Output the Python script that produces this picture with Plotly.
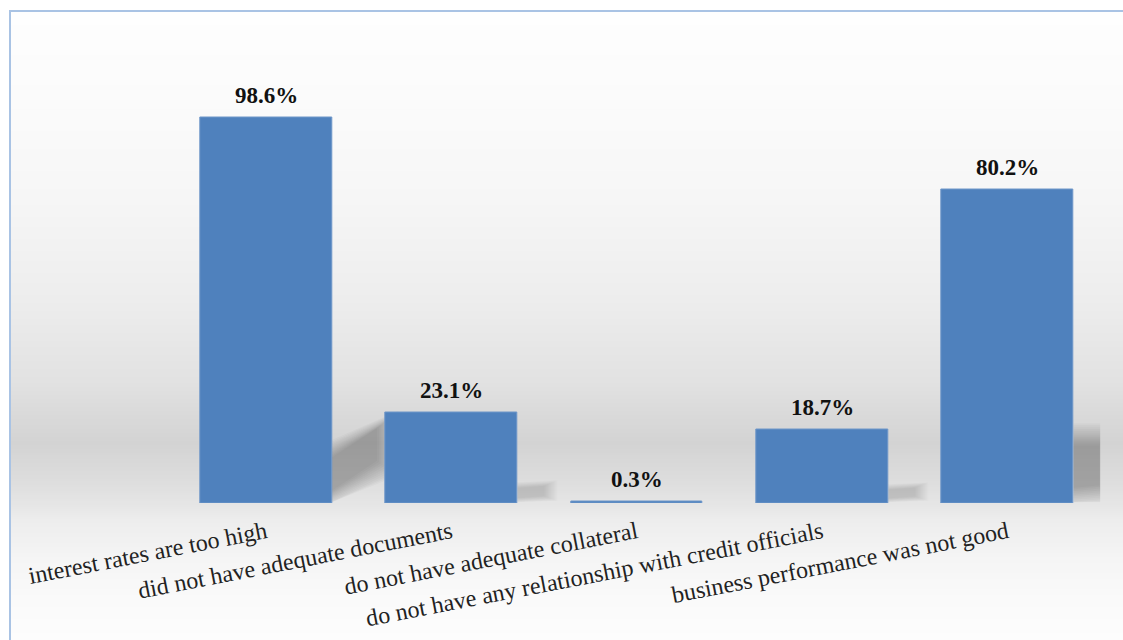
import numpy as np
import plotly.graph_objects as go

# ---- data ----
categories = [
    "interest rates are too high",
    "did not have adequate documents",
    "do not have adequate collateral",
    "do not have any relationship with credit officials",
    "business performance was not good",
]
shares = [98.6, 23.1, 0.3, 18.7, 80.2]
value_labels = ["98.6%", "23.1%", "0.3%", "18.7%", "80.2%"]

W, H = 1123, 640
BAR_COLOR = "#4F81BD"
BAR_WIDTH = 0.71
SERIF = "Liberation Serif, Times New Roman, serif"

x_pos = list(range(len(categories)))

fig = go.Figure()
fig.add_trace(go.Bar(
    x=x_pos,
    y=shares,
    width=BAR_WIDTH,
    marker=dict(color=BAR_COLOR, line=dict(color="#6f97c9", width=1)),
    hoverinfo="skip",
))

# value labels above the bars
for xi, v, lab in zip(x_pos, shares, value_labels):
    fig.add_annotation(
        x=xi, y=v, xref="x", yref="y", text="<b>" + lab + "</b>",
        showarrow=False, yanchor="bottom", yshift=8,
        font=dict(family=SERIF, size=23, color="#111111"),
    )

# ---- background: soft vertical gray gradient (darkest at the floor line) ----
grad_y = [11, 100, 200, 300, 380, 443, 480, 503, 520, 560, 600, 640]
grad_g = [254, 251, 246, 237, 226, 211, 221, 229, 237, 245, 250, 253]
shapes = []
step = 2
for top in range(11, H, step):
    g = int(round(np.interp(top + step / 2, grad_y, grad_g)))
    shapes.append(dict(
        type="rect", xref="paper", yref="paper", layer="below",
        x0=10 / W, x1=1.0, y0=1 - (top + step) / H, y1=1 - top / H,
        fillcolor=f"rgb({g},{g},{g})", line=dict(width=0),
    ))


# ---- soft drop shadows cast to the right of the bars ----
def shadow(xi, v, width, h_left, rise, lift, alpha):
    """Blurred parallelogram on the floor right of bar xi (data units)."""
    xr = xi + BAR_WIDTH / 2
    h0 = min(v, h_left)
    out = []
    n = 12
    for k in range(n):
        f = k / (n - 1) - 0.25          # negative values spread the halo outward
        x1 = xr + width * (1 - 0.35 * f)
        yb0 = max(0.2, 0.3 + h0 * 0.25 * f)
        yb1 = max(0.2, lift + h0 * 0.25 * f)
        yt0 = min(v, h0 * (1 - 0.3 * f))
        yt1 = h0 * (1 - 0.3 * f) + rise
        if yt0 <= yb0:
            continue
        out.append(dict(
            type="path", xref="x", yref="y", layer="below",
            path=f"M {xr},{yb0} L {x1},{yb1} L {x1},{yt1} L {xr},{yt0} Z",
            fillcolor=f"rgba(0,0,0,{alpha})", line=dict(width=0),
        ))
    return out


shadow_params = [
    # (width, height at bar, rise over width, lift of lower edge, opacity per layer)
    (0.33, 15, 7.5, 8.0, 0.022),
    (0.20, 5, 0.5, 0.8, 0.013),
    (0.0, 0, 0.0, 0.0, 0.0),
    (0.20, 4.5, 0.5, 0.8, 0.013),
    (0.19, 19, 0.0, 1.0, 0.024),
]
for xi, v, p in zip(x_pos, shares, shadow_params):
    if p[0] > 0:
        shapes.extend(shadow(xi, v, *p))

# light blue frame around the chart area
shapes.append(dict(
    type="rect", xref="paper", yref="paper", layer="above",
    x0=10 / W, x1=1.02, y0=-0.02, y1=1 - 11 / H,
    line=dict(color="#a9c3e4", width=2), fillcolor="rgba(0,0,0,0)",
))

x_left, x_right = 173.3, 1100.3
y_base, y_top = 503.0, 112.5

fig.update_layout(
    width=W, height=H,
    margin=dict(l=0, r=0, t=0, b=0),
    paper_bgcolor="white",
    plot_bgcolor="rgba(0,0,0,0)",
    showlegend=False,
    shapes=shapes,
    bargap=0,
    xaxis=dict(
        domain=[x_left / W, x_right / W],
        range=[-0.5, len(categories) - 0.5],
        tickmode="array", tickvals=x_pos, ticktext=categories,
        tickangle=-11,
        tickfont=dict(family=SERIF, size=24, color="#222222"),
        showgrid=False, zeroline=False, showline=False, ticks="",
        automargin=False,
        ticklabelstandoff=10,
    ),
    yaxis=dict(
        domain=[1 - y_base / H, 1 - y_top / H],
        range=[0, 100],
        showgrid=False, zeroline=False, showline=False,
        showticklabels=False, ticks="", automargin=False,
    ),
)

fig.write_html("out.html")
